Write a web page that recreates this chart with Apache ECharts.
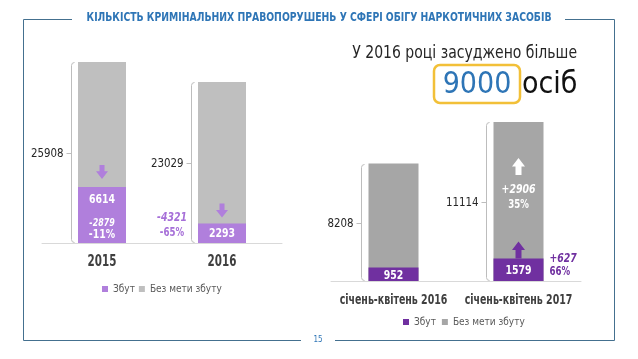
<!DOCTYPE html>
<html><head><meta charset="utf-8">
<script src="https://cdn.jsdelivr.net/npm/echarts@6/dist/echarts.min.js"></script>
<style>html,body{margin:0;padding:0;background:#fff}#c{width:638px;height:359px}</style>
</head><body><div id="c"></div>
<script>
const titleText = 'КІЛЬКІСТЬ КРИМІНАЛЬНИХ ПРАВОПОРУШЕНЬ У СФЕРІ ОБІГУ НАРКОТИЧНИХ ЗАСОБІВ';
const seriesNames = ['Збут', 'Без мети збуту'];
const leftCategories = ['2015', '2016'];
const leftSales = [6614, 2293];
const leftTotal = [25908, 23029];
const leftTotalChange = ['-2879', '-11%'];
const leftSalesChange = ['-4321', '-65%'];
const rightCategories = ['січень-квітень 2016', 'січень-квітень 2017'];
const rightSales = [952, 1579];
const rightTotal = [8208, 11114];
const rightTotalChange = ['+2906', '35%'];
const rightSalesChange = ['+627', '66%'];
const headline = 'У 2016 році засуджено більше';
const headNumber = '9000';
const headUnit = 'осіб';
const pageNo = '15';

const F = '"DejaVu Sans Condensed", "DejaVu Sans", sans-serif';
const C = {
  lPurple: '#b07fdc', lGray: '#bfbfbf', rPurple: '#7030a0', rGray: '#a6a6a6',
  frame: '#44708f', blue: '#2e75b6', bracket: '#bdbdbd', axis: '#d9d9d9', cat: '#404040'
};

function downArrow(cx, y0, y1, fill) {
  const ym = y0 + (y1 - y0) * 0.45;
  return {type: 'polygon', shape: {points: [[cx-2.5,y0],[cx+2.5,y0],[cx+2.5,ym],[cx+6,ym],[cx,y1],[cx-6,ym],[cx-2.5,ym]]}, style: {fill}};
}
function upArrow(cx, y0, y1, fill) {
  const ym = y0 + (y1 - y0) * 0.5;
  return {type: 'polygon', shape: {points: [[cx,y0],[cx+6.5,ym],[cx+3,ym],[cx+3,y1],[cx-3,y1],[cx-3,ym],[cx-6.5,ym]]}, style: {fill}};
}
function txt(text, x, y, o, sx) {
  return {type: 'text', x, y, scaleX: sx == null ? 0.8 : sx,
    style: Object.assign({text, x: 0, y: 0, fontFamily: F, fontSize: 13, fontWeight: 'bold', fill: '#fff', align: 'center', verticalAlign: 'middle'}, o || {})};
}
function bracketRender(barW, off) {
  return function (params, api) {
    const i = api.value(0), v = api.value(1);
    const t = api.coord([i, v]), b = api.coord([i, 0]);
    const x = Math.round(t[0] - barW / 2 - off) + 0.5;
    const top = Math.round(t[1]) + 0.5, bot = Math.round(b[1]) - 0.5, mid = Math.round((top + bot) / 2) + 0.5;
    return {type: 'group', children: [
      {type: 'path', shape: {pathData: `M${x+3},${top} Q${x},${top} ${x},${top+3} L${x},${bot-3} Q${x},${bot} ${x+3},${bot}`}, style: {stroke: C.bracket, fill: 'none', lineWidth: 1}},
      {type: 'line', shape: {x1: x, y1: mid, x2: x - 5, y2: mid}, style: {stroke: C.bracket, lineWidth: 1}},
      txt(String(v), x - 8, mid, {align: 'right', fontWeight: 'normal', fontSize: 12, fill: '#262626'}, 0.95)
    ]};
  };
}
function categoryRender(cats, fs, sx) {
  return function (params, api) {
    const i = api.value(0);
    const b = api.coord([i, 0]);
    return txt(cats[i], b[0], b[1] + 19, {fontSize: fs, fill: C.cat}, sx);
  };
}

const option = {
  animation: false,
  grid: [
    {left: 42, top: 62, width: 240, height: 181},
    {left: 331, top: 122, width: 250, height: 159}
  ],
  xAxis: [
    {type: 'category', gridIndex: 0, data: leftCategories, axisTick: {show: false},
     axisLine: {lineStyle: {color: C.axis}}, axisLabel: {show: false}},
    {type: 'category', gridIndex: 1, data: rightCategories, axisTick: {show: false},
     axisLine: {lineStyle: {color: C.axis}}, axisLabel: {show: false}}
  ],
  yAxis: [
    {type: 'value', gridIndex: 0, min: 0, max: 25908, show: false},
    {type: 'value', gridIndex: 0, min: 0, max: 21400, show: false},
    {type: 'value', gridIndex: 1, min: 0, max: 11114, show: false}
  ],
  legend: [
    {left: 102, top: 284, itemWidth: 6, itemHeight: 6, itemGap: 4, icon: 'rect', padding: 0,
     textStyle: {fontSize: 10, color: '#595959', fontFamily: F},
     data: [{name: seriesNames[0], itemStyle: {color: C.lPurple}}, {name: seriesNames[1], itemStyle: {color: C.lGray}}]},
    {left: 403, top: 317, itemWidth: 6, itemHeight: 6, itemGap: 6, icon: 'rect', padding: 0,
     textStyle: {fontSize: 10, color: '#595959', fontFamily: F},
     data: [{name: seriesNames[0], itemStyle: {color: C.rPurple}}, {name: seriesNames[1], itemStyle: {color: C.rGray}}]}
  ],
  series: [
    {name: seriesNames[1], type: 'bar', xAxisIndex: 0, yAxisIndex: 0, data: leftTotal, barWidth: 48, itemStyle: {color: C.lGray}},
    {name: seriesNames[0], type: 'bar', xAxisIndex: 0, yAxisIndex: 1, data: leftSales, barWidth: 48, barGap: '-100%', itemStyle: {color: C.lPurple}},
    {name: seriesNames[1], type: 'bar', xAxisIndex: 1, yAxisIndex: 2, data: rightTotal, barWidth: 50, itemStyle: {color: C.rGray}},
    {name: seriesNames[0], type: 'bar', xAxisIndex: 1, yAxisIndex: 2, data: rightSales, barWidth: 50, barGap: '-100%', itemStyle: {color: C.rPurple}},
    {type: 'custom', name: 'cl', xAxisIndex: 0, yAxisIndex: 0, silent: true, z: 5,
     data: leftCategories.map((c, i) => [i, 0]), renderItem: categoryRender(leftCategories, 16, 0.72)},
    {type: 'custom', name: 'cr', xAxisIndex: 1, yAxisIndex: 2, silent: true, z: 5,
     data: rightCategories.map((c, i) => [i, 0]), renderItem: categoryRender(rightCategories, 14, 0.75)},
    {type: 'custom', name: 'bl', xAxisIndex: 0, yAxisIndex: 0, silent: true, z: 5,
     data: leftTotal.map((v, i) => [i, v]), renderItem: bracketRender(48, 7)},
    {type: 'custom', name: 'br', xAxisIndex: 1, yAxisIndex: 2, silent: true, z: 5,
     data: rightTotal.map((v, i) => [i, v]), renderItem: bracketRender(50, 8)},
    {type: 'custom', name: 'al', xAxisIndex: 0, yAxisIndex: 1, silent: true, z: 6,
     data: leftSales.map((v, i) => [i, v]),
     renderItem(params, api) {
       const i = api.value(0), v = api.value(1);
       const p = api.coord([i, v]), b = api.coord([i, 0]);
       const cx = p[0], P = p[1], B = b[1];
       if (i === 0) {
         return {type: 'group', children: [
           downArrow(cx, P - 22, P - 8, C.lPurple),
           txt(String(v), cx, P + 13, {fontSize: 13}),
           txt(leftTotalChange[0], cx, B - 20, {fontSize: 11, fontStyle: 'italic'}),
           txt(leftTotalChange[1], cx, B - 8, {fontSize: 13})
         ]};
       }
       return {type: 'group', children: [
         downArrow(cx, P - 20, P - 6, C.lPurple),
         txt(String(v), cx, B - 9, {fontSize: 13}),
         txt(leftSalesChange[0], cx - 50, B - 25, {fontSize: 13, fontStyle: 'italic', fill: '#a66fd8'}),
         txt(leftSalesChange[1], cx - 50, B - 10, {fontSize: 12, fill: '#a66fd8'})
       ]};
     }},
    {type: 'custom', name: 'ar', xAxisIndex: 1, yAxisIndex: 2, silent: true, z: 6,
     data: rightSales.map((v, i) => [i, v, rightTotal[i]]),
     renderItem(params, api) {
       const i = api.value(0), v = api.value(1), tot = api.value(2);
       const p = api.coord([i, v]), b = api.coord([i, 0]), t = api.coord([i, tot]);
       const cx = p[0], P = p[1], B = b[1], T = t[1];
       if (i === 0) {
         return {type: 'group', children: [txt(String(v), cx, (P + B) / 2 + 1, {fontSize: 13})]};
       }
       return {type: 'group', children: [
         txt(String(v), cx, B - 10, {fontSize: 13}),
         upArrow(cx, P - 17, P, C.rPurple),
         txt(rightSalesChange[0], cx + 31, B - 22, {align: 'left', fontSize: 13, fontStyle: 'italic', fill: C.rPurple}),
         txt(rightSalesChange[1], cx + 31, B - 9, {align: 'left', fontSize: 12, fill: C.rPurple}),
         upArrow(cx, T + 36, T + 53, '#fff'),
         txt(rightTotalChange[0], cx, T + 68, {fontSize: 13, fontStyle: 'italic'}),
         txt(rightTotalChange[1], cx, T + 83, {fontSize: 12})
       ]};
     }}
  ],
  graphic: [
    {type: 'polyline', shape: {points: [[72, 19.5], [23.5, 19.5], [23.5, 340.5], [301, 340.5]]}, style: {stroke: C.frame, lineWidth: 1, fill: 'none'}},
    {type: 'polyline', shape: {points: [[565, 19.5], [614.5, 19.5], [614.5, 340.5], [335, 340.5]]}, style: {stroke: C.frame, lineWidth: 1, fill: 'none'}},
    {type: 'text', x: 319, y: 18, scaleX: 0.86, style: {text: titleText, fontFamily: F, fontSize: 12, fontWeight: 'bold', fill: C.blue, align: 'center', verticalAlign: 'middle'}},
    {type: 'text', x: 318, y: 340, style: {text: pageNo, fontFamily: F, fontSize: 8, fill: C.blue, align: 'center', verticalAlign: 'middle'}},
    {type: 'text', x: 577, y: 53, scaleX: 0.865, style: {text: headline, fontFamily: F, fontSize: 18, fill: '#262626', align: 'right', verticalAlign: 'middle'}},
    {type: 'rect', shape: {x: 434, y: 65, width: 86, height: 38, r: 6}, style: {stroke: '#f2c038', lineWidth: 2.5, fill: 'none'}},
    {type: 'text', x: 477, y: 85, style: {text: headNumber, fontFamily: F, fontSize: 30, fill: C.blue, align: 'center', verticalAlign: 'middle'}},
    {type: 'text', x: 522, y: 85, style: {text: headUnit, fontFamily: F, fontSize: 30, fill: '#111', align: 'left', verticalAlign: 'middle'}}
  ]
};
const chart = echarts.init(document.getElementById('c'), null, {renderer: 'canvas'});
chart.setOption(option);
</script>
</body></html>
